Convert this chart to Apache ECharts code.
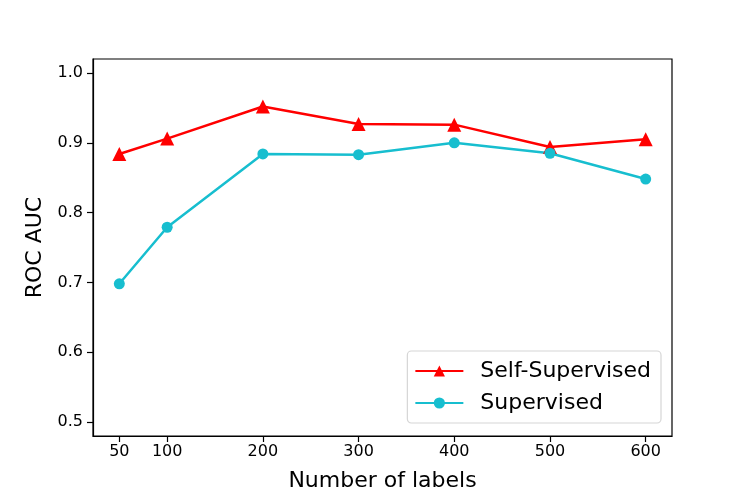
<!DOCTYPE html>
<html>
<head>
<meta charset="UTF-8">
<title>ROC AUC vs number of labels</title>
<script src="https://cdn.jsdelivr.net/npm/echarts@6/dist/echarts.min.js"></script>
<style>
body{margin:0;padding:0;background:#fff;}
#main{width:747px;height:498px;}
</style>
</head>
<body>
<div id="main"></div>
<script type="text/javascript">
// data
var labels = [50, 100, 200, 300, 400, 500, 600];
var selfSupervised = [0.884, 0.906, 0.952, 0.927, 0.926, 0.894, 0.905];
var supervised = [0.698, 0.779, 0.884, 0.883, 0.900, 0.885, 0.848];
var xTicks = [50, 100, 200, 300, 400, 500, 600];
var yTicks = [0.5, 0.6, 0.7, 0.8, 0.9, 1.0];

var font = 'DejaVu Sans';
var chart = echarts.init(document.getElementById('main'));

function pairs(ys) {
    return labels.map(function (x, i) { return [x, ys[i]]; });
}

chart.setOption({
    backgroundColor: '#fff',
    animation: false,
    grid: {
        left: 93, top: 59, right: 75, bottom: 62,
        show: true, borderColor: '#000', borderWidth: 1.2, backgroundColor: 'transparent'
    },
    legend: {
        right: 86, bottom: 75,
        orient: 'vertical',
        data: ['Self-Supervised', 'Supervised'],
        itemWidth: 48, itemHeight: 14, itemGap: 10,
        padding: [9, 10, 9, 7],
        borderColor: '#d6d6d6', borderWidth: 1.2, borderRadius: 4,
        backgroundColor: 'rgba(255,255,255,0.8)',
        textStyle: { fontFamily: font, fontSize: 22, color: '#000', padding: [0, 0, 0, 12] }
    },
    xAxis: {
        type: 'value', min: 22.5, max: 627.5,
        name: 'Number of labels', nameLocation: 'middle', nameGap: 34,
        nameTextStyle: { fontFamily: font, fontSize: 22, color: '#000' },
        axisLine: { show: true, lineStyle: { color: '#000', width: 1.2 } },
        axisTick: { show: true, inside: false, length: 6, customValues: xTicks, lineStyle: { color: '#000', width: 1.2 } },
        axisLabel: { customValues: xTicks, margin: 8, fontFamily: font, fontSize: 16, color: '#000' },
        splitLine: { show: false }
    },
    yAxis: {
        type: 'value', min: 0.48, max: 1.02,
        name: 'ROC AUC', nameLocation: 'middle', nameGap: 46,
        nameTextStyle: { fontFamily: font, fontSize: 22, color: '#000' },
        axisLine: { show: true, lineStyle: { color: '#000', width: 1.2 } },
        axisTick: { show: true, inside: false, length: 6, customValues: yTicks, lineStyle: { color: '#000', width: 1.2 } },
        axisLabel: {
            customValues: yTicks, margin: 10, fontFamily: font, fontSize: 16, color: '#000',
            formatter: function (v) { return v.toFixed(1); }
        },
        splitLine: { show: false }
    },
    series: [
        {
            name: 'Self-Supervised', type: 'line',
            data: pairs(selfSupervised),
            symbol: 'triangle', symbolSize: 14,
            itemStyle: { color: '#ff0000' },
            lineStyle: { color: '#ff0000', width: 2.5 }
        },
        {
            name: 'Supervised', type: 'line',
            data: pairs(supervised),
            symbol: 'circle', symbolSize: 11,
            itemStyle: { color: '#17becf' },
            lineStyle: { color: '#17becf', width: 2.5 }
        }
    ]
});
</script>
</body>
</html>
